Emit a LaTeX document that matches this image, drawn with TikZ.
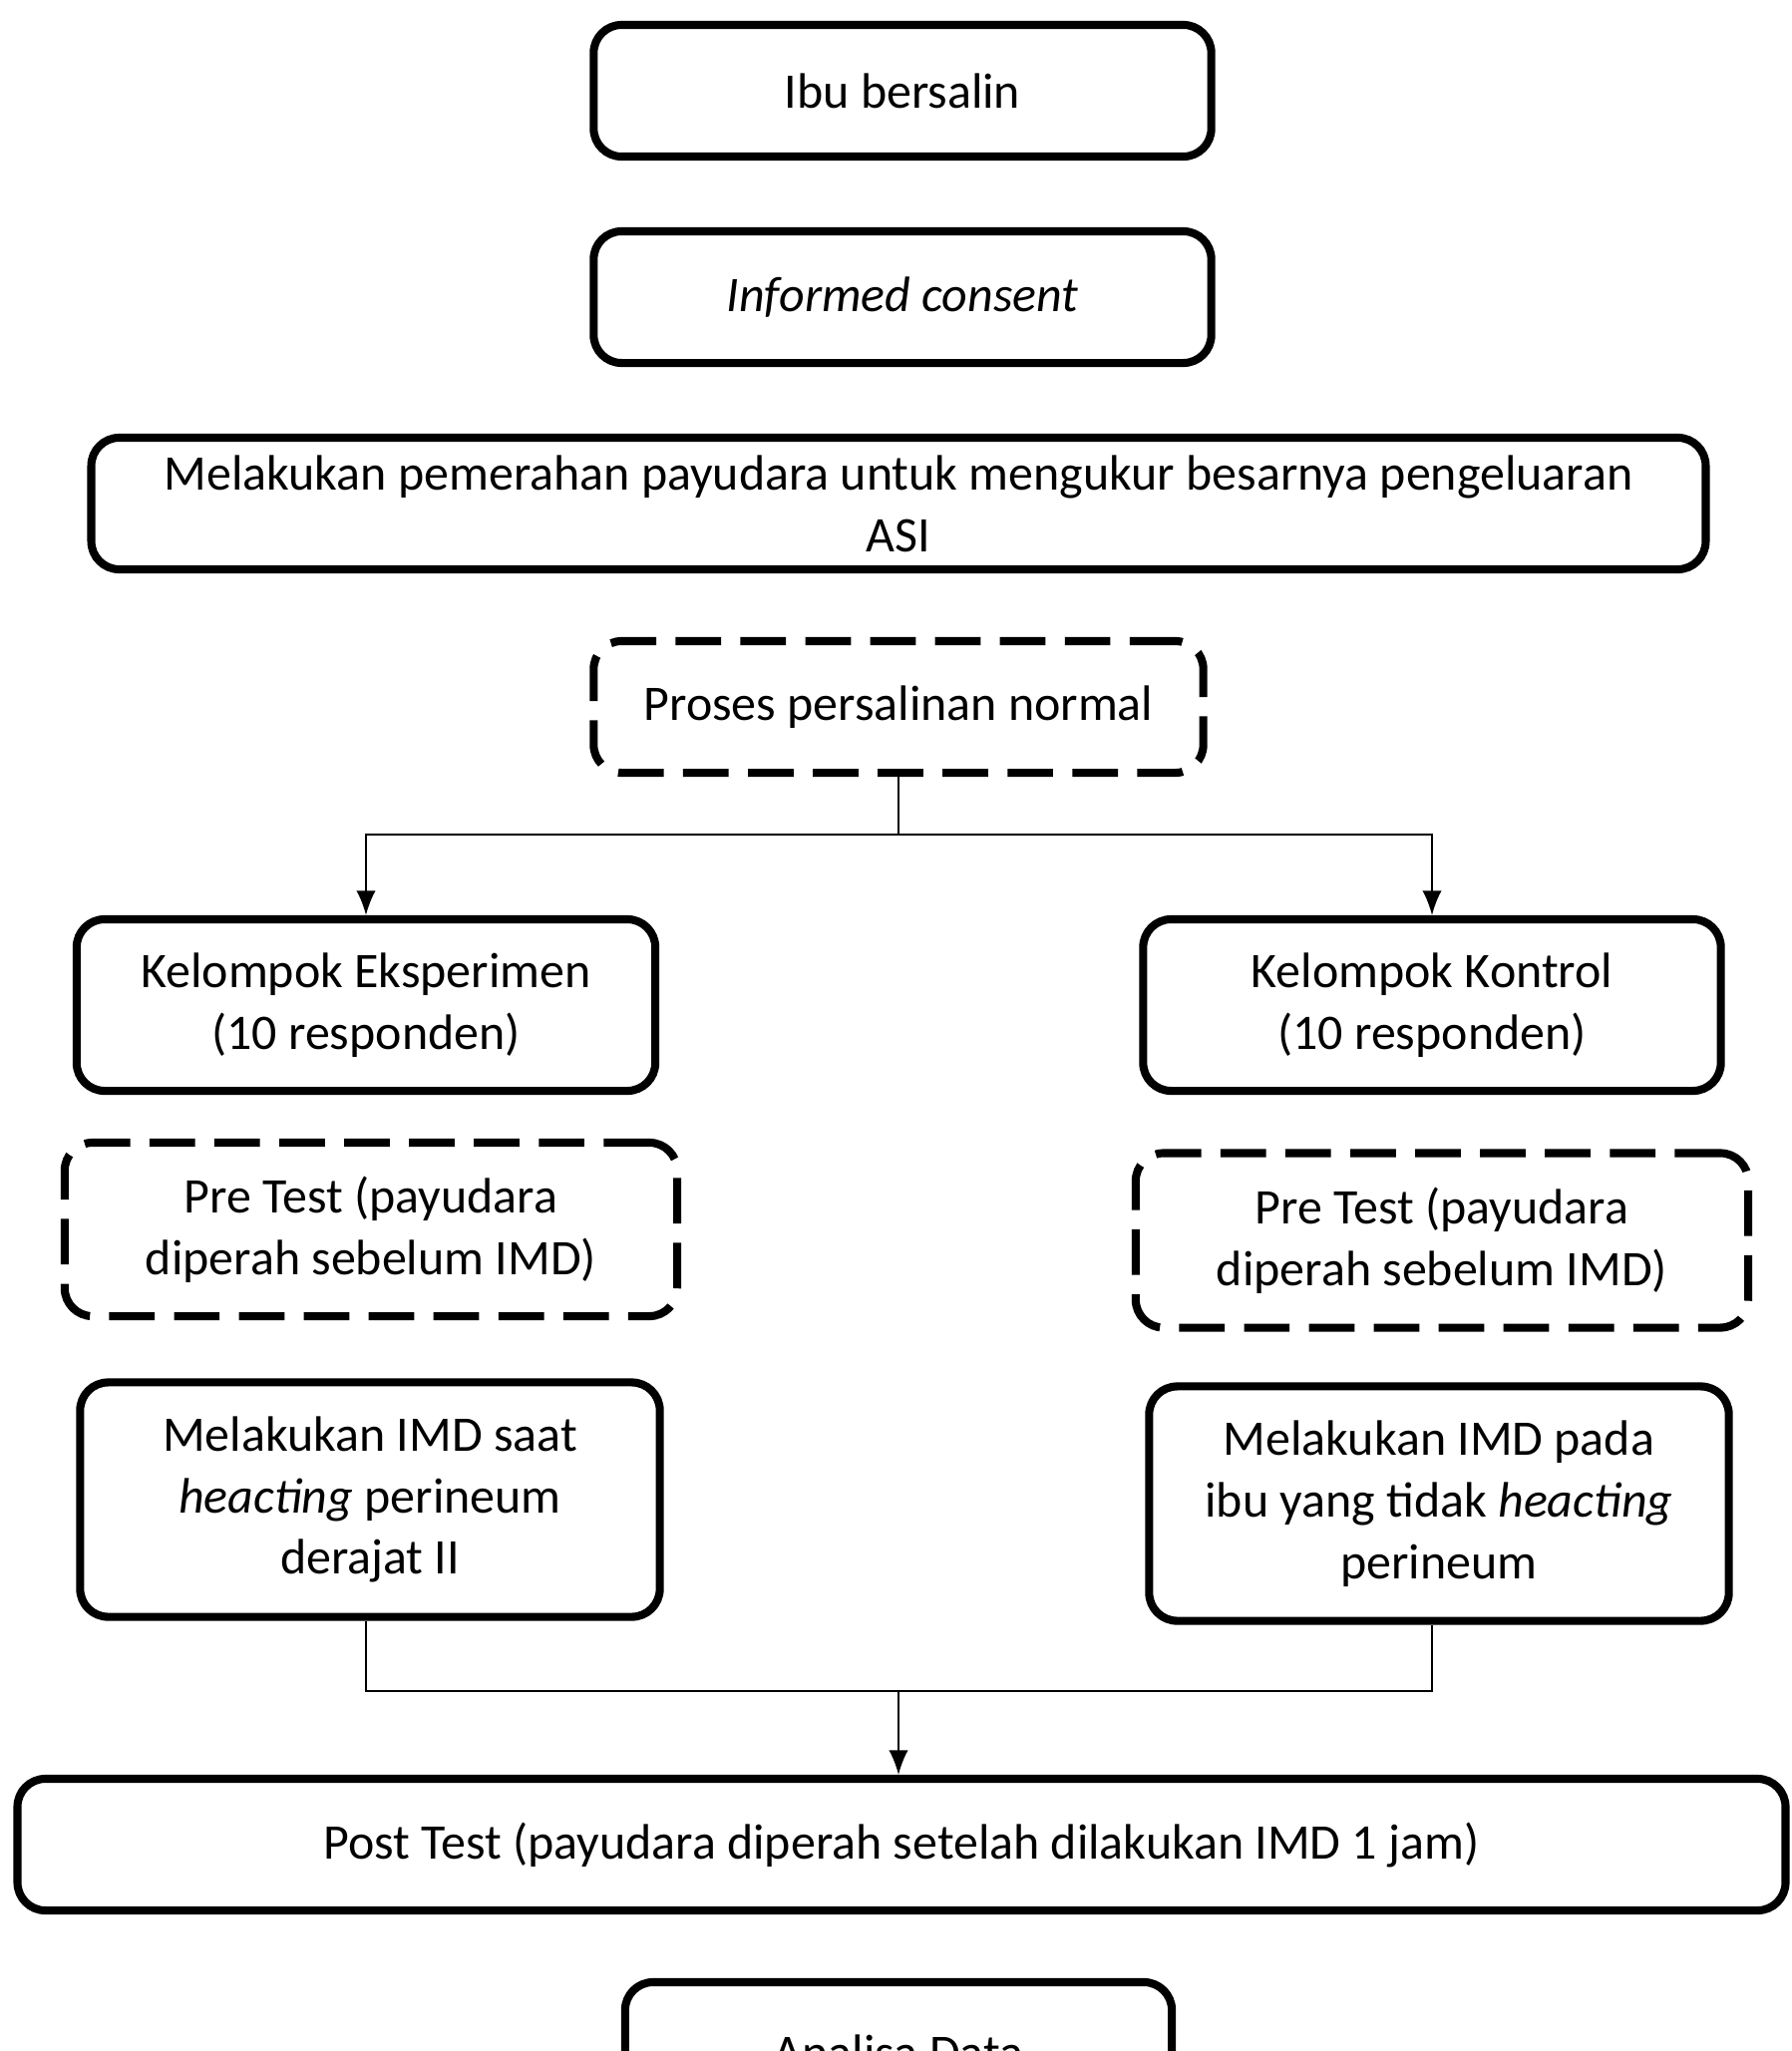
\documentclass[tikz,border=0pt]{standalone}
\usepackage{fontspec}
\setmainfont{Carlito}
\usetikzlibrary{arrows.meta}

\begin{document}
\begin{tikzpicture}[x=0.01cm, y=-0.01cm,
		kotak/.style={draw, line width=2.3pt, rounded corners=8pt, align=center, inner sep=0pt},
		putus/.style={kotak, dash pattern=on 13pt off 5.5pt},
		panah/.style={line width=0.6pt, -{Latex[length=7pt,width=5.5pt]}},
		garis/.style={line width=0.6pt}]
		\useasboundingbox (0,0) rectangle (1796,2057);
		\fontsize{14.2}{17.6}\selectfont
		\node[kotak, minimum width=6.19cm, minimum height=1.32cm] (ibu) at (905,91) {Ibu bersalin};
		\node[kotak, minimum width=6.19cm, minimum height=1.32cm] (consent) at (905,298) {\textit{Informed consent}};
		\node[kotak, minimum width=16.18cm, minimum height=1.32cm] (perah) at (901,505) {Melakukan pemerahan payudara untuk mengukur besarnya pengeluaran\\ASI};
		\node[putus, minimum width=6.11cm, minimum height=1.32cm] (proses) at (901,709) {Proses persalinan normal};
		\node[kotak, minimum width=5.80cm, minimum height=1.72cm] (eksp) at (367,1008) {Kelompok Eksperimen\\(10 responden)};
		\node[kotak, minimum width=5.79cm, minimum height=1.72cm] (kontrol) at (1436,1008) {Kelompok Kontrol\\(10 responden)};
		\node[putus, minimum width=6.14cm, minimum height=1.74cm] (pre1) at (372,1233) {Pre Test (payudara\\diperah sebelum IMD)};
		\node[putus, minimum width=6.14cm, minimum height=1.75cm] (pre2) at (1446,1244) {Pre Test (payudara\\diperah sebelum IMD)};
		\node[kotak, minimum width=5.81cm, minimum height=2.35cm] (imd1) at (371,1504) {Melakukan IMD saat\\\textit{heacting} perineum\\derajat II};
		\node[kotak, minimum width=5.81cm, minimum height=2.35cm] (imd2) at (1443,1508) {Melakukan IMD pada\\ibu yang tidak \textit{heacting}\\perineum};
		\node[kotak, minimum width=17.72cm, minimum height=1.32cm] (post) at (904,1850) {Post Test (payudara diperah setelah dilakukan IMD 1 jam)};
		\node[kotak, minimum width=5.48cm, minimum height=1.40cm] (analisa) at (901,2058) {Analisa Data};
		\coordinate (bagi) at (901,837);
		\coordinate (gabung) at (901,1696);
		\draw[garis] (proses.south) -- (bagi);
		\draw[panah] (bagi) -| (eksp.north);
		\draw[panah] (bagi) -| (kontrol.north);
		\draw[garis] (eksp.north |- imd1.south) |- (gabung);
		\draw[garis] (kontrol.north |- imd2.south) |- (gabung);
		\draw[panah] (gabung) -- (gabung |- post.north);
	\end{tikzpicture}
\end{document}
